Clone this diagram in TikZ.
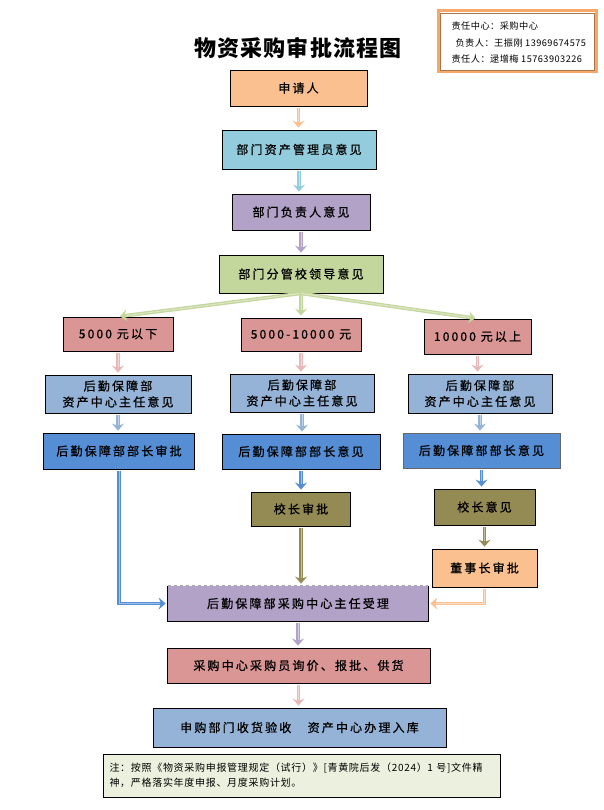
\documentclass[tikz,border=0pt]{standalone}
\usepackage{fontspec}
\usetikzlibrary{arrows.meta}
\setmainfont{Noto Sans CJK SC}
\newfontfamily\boxfont[LetterSpace=18, FakeBold=0.8]{Noto Sans CJK SC}
\newfontfamily\titlefont[LetterSpace=5]{Noto Sans CJK SC}
\newfontfamily\notefont[LetterSpace=7]{Noto Sans CJK SC}
\newfontfamily\infofont[LetterSpace=5]{Noto Sans CJK SC}

\definecolor{peach}{HTML}{FAC090}
\definecolor{cyanbox}{HTML}{93CDDD}
\definecolor{lilac}{HTML}{B3A2C7}
\definecolor{sage}{HTML}{C3D69B}
\definecolor{rose}{HTML}{D99694}
\definecolor{rosearrow}{HTML}{E6B9B8}
\definecolor{skyblue}{HTML}{95B3D7}
\definecolor{midblue}{HTML}{558ED5}
\definecolor{olivebox}{HTML}{948A54}
\definecolor{notefill}{HTML}{EBF1DE}
\definecolor{frameorange}{HTML}{F5A86A}

\tikzset{
  stagebox/.style={draw=black, line width=0.8pt, inner sep=0pt, align=center,
    font=\boxfont\fontsize{12}{16}\selectfont},
  flow/.style={draw=#1, line width=3.6pt,
    -{Stealth[length=7pt,width=12pt,inset=2.5pt]}, shorten <=2pt, shorten >=2pt,
    postaction={draw=#1!55!white, line width=1pt, -, shorten >=8pt}}
}

\begin{document}
\begin{tikzpicture}[x=1pt, y=-1pt]
  \fill[white] (0,0) rectangle (603,810);
  \useasboundingbox (0,0) rectangle (603,810);

  % title and responsibility box
  \node[font=\titlefont\bfseries\fontsize{22}{26}\selectfont] (title) at (298,48) {物资采购审批流程图};
  \node[draw=frameorange, line width=3pt, fill=white, minimum width=158pt, minimum height=61pt] (info) at (517,41.5) {};
  \draw[frameorange!70!black, line width=0.5pt] ([shift={(3.5,3.5)}]info.north west) rectangle ([shift={(-3.5,-3.5)}]info.south east);
  \node[anchor=west, align=left, font=\infofont\fontsize{9.2}{16.5}\selectfont] (infotext) at (448,43)
    {责任中心：采购中心\\\hspace{4pt}负责人：王振刚 13969674575\\责任人：逯增梅 15763903226};

  % main chain
  \node[stagebox, fill=peach, minimum width=137pt, minimum height=36pt] (apply) at (298.5,88) {申请人};
  \node[stagebox, fill=cyanbox, minimum width=154pt, minimum height=39pt] (keeper) at (299,149.5) {部门资产管理员意见};
  \node[stagebox, fill=lilac, minimum width=138pt, minimum height=36pt] (head) at (301,212) {部门负责人意见};
  \node[stagebox, fill=sage, minimum width=164pt, minimum height=38pt] (leader) at (301,274) {部门分管校领导意见};

  % amount branches
  \node[stagebox, fill=rose, minimum width=110pt, minimum height=34pt] (lowamt) at (118,334) {5000 元以下};
  \node[stagebox, fill=rose, minimum width=120pt, minimum height=33pt] (midamt) at (301,334.5) {5000-10000 元};
  \node[stagebox, fill=rose, minimum width=107pt, minimum height=35pt] (highamt) at (477.5,336.5) {10000 元以上};

  \node[stagebox, fill=skyblue, minimum width=146pt, minimum height=38pt] (assetL) at (118,394) {后勤保障部\\资产中心主任意见};
  \node[stagebox, fill=skyblue, minimum width=144pt, minimum height=38pt] (assetM) at (302,393) {后勤保障部\\资产中心主任意见};
  \node[stagebox, fill=skyblue, minimum width=144pt, minimum height=39pt] (assetR) at (480,393.5) {后勤保障部\\资产中心主任意见};

  \node[stagebox, fill=midblue, minimum width=151pt, minimum height=36pt] (chiefL) at (119,451) {后勤保障部部长审批};
  \node[stagebox, fill=midblue, minimum width=158pt, minimum height=35pt] (chiefM) at (301,451.5) {后勤保障部部长意见};
  \node[stagebox, fill=midblue, draw=black!60, minimum width=157pt, minimum height=35pt] (chiefR) at (481.5,450.5) {后勤保障部部长意见};

  \node[stagebox, fill=olivebox, minimum width=99pt, minimum height=34pt] (presM) at (301,509) {校长审批};
  \node[stagebox, fill=olivebox, minimum width=101pt, minimum height=36pt] (presR) at (484.5,507) {校长意见};
  \node[stagebox, fill=peach, minimum width=105pt, minimum height=38pt] (board) at (484.5,568) {董事长审批};

  % common tail
  \node[stagebox, draw=none, fill=lilac, minimum width=260pt, minimum height=35pt] (accept) at (298,603.5) {后勤保障部采购中心主任受理};
  \draw[line width=0.8pt] (accept.north east) -- (accept.south east) -- (accept.south west) -- (accept.north west);
  \draw[black!35, dashed, line width=0.6pt] (accept.north west) -- (accept.north east);
  \node[stagebox, fill=rose, minimum width=263pt, minimum height=35pt] (buyer) at (298.5,665.5) {采购中心采购员询价、报批、供货};
  \node[stagebox, fill=skyblue, minimum width=293pt, minimum height=39pt] (store) at (299.5,727.5) {申购部门收货验收　资产中心办理入库};

  \node[draw=black, line width=0.8pt, fill=notefill, minimum width=397pt, minimum height=43pt,
    text width=384pt, align=left, font=\notefont\fontsize{10}{15}\selectfont] (note) at (301.5,775.5)
    {注：按照《物资采购申报管理规定（试行）》[青黄院后发（2024）1 号]文件精\\神，严格落实年度申报、月度采购计划。};

  % arrows
  \draw[flow=peach] (apply.south) -- (apply.south |- keeper.north);
  \draw[flow=cyanbox] (keeper.south) -- (keeper.south |- head.north);
  \draw[flow=lilac] (head.south) -- (head.south |- leader.north);
  \draw[flow=sage, shorten <=0pt] (leader.south) -- (lowamt.north);
  \draw[flow=sage, shorten <=0pt] (leader.south) -- (leader.south |- midamt.north);
  \draw[flow=sage, shorten <=0pt] (leader.south) -- (highamt.north);

  \draw[flow=rosearrow] (lowamt.south) -- (lowamt.south |- assetL.north);
  \draw[flow=rosearrow] (midamt.south) -- (midamt.south |- assetM.north);
  \draw[flow=rosearrow] (highamt.south) -- (highamt.south |- assetR.north);
  \draw[flow=skyblue] (assetL.south) -- (assetL.south |- chiefL.north);
  \draw[flow=skyblue] (assetM.south) -- (assetM.south |- chiefM.north);
  \draw[flow=skyblue] (assetR.south) -- (assetR.south |- chiefR.north);

  \draw[flow=midblue] (chiefL.south) |- (accept.west);
  \draw[flow=midblue] (chiefM.south) -- (chiefM.south |- presM.north);
  \draw[flow=midblue] (chiefR.south) -- (chiefR.south |- presR.north);
  \draw[flow=olivebox] (presM.south) -- (presM.south |- accept.north);
  \draw[flow=olivebox] (presR.south) -- (presR.south |- board.north);
  \draw[flow=peach] (board.south) |- (accept.east);

  \draw[flow=lilac] (accept.south) -- (accept.south |- buyer.north);
  \draw[flow=rosearrow] (buyer.south) -- (buyer.south |- store.north);
\end{tikzpicture}
\end{document}
